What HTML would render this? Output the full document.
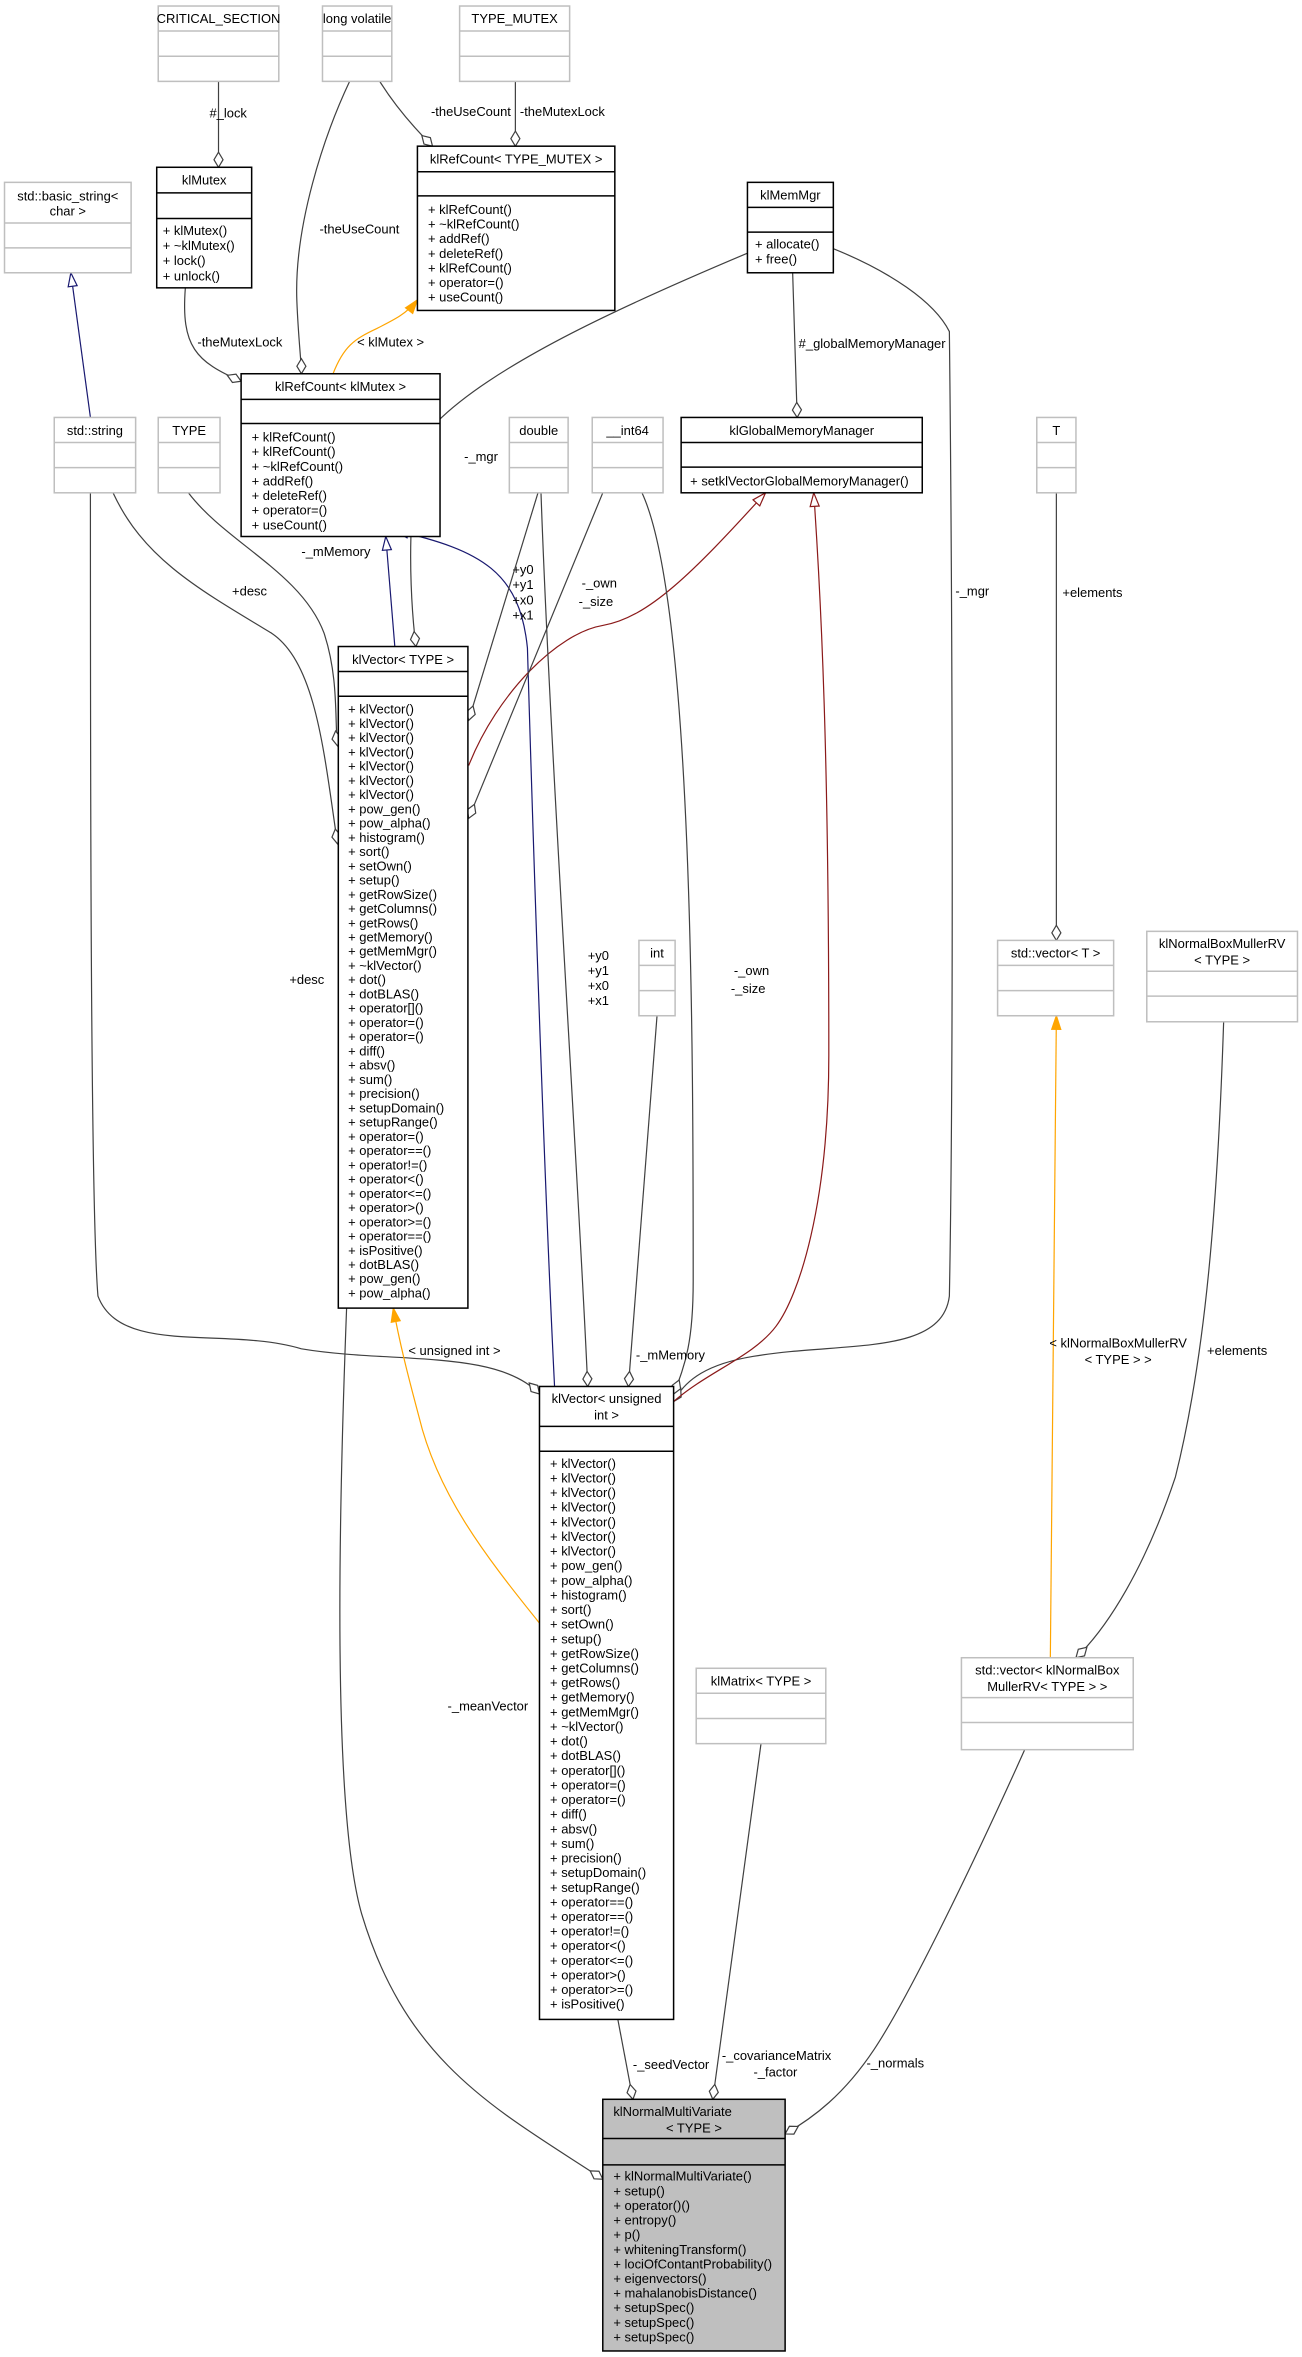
<!DOCTYPE html>
<html><head><meta charset="utf-8"><style>
html,body{margin:0;padding:0;background:#fff}
svg{display:block}
text{font-family:"Liberation Sans",Arial,sans-serif;font-size:8.6px;fill:#000}
.t{text-anchor:middle}
.g{fill:#fff;stroke:#bfbfbf;stroke-width:1}
.b{fill:#fff;stroke:#000;stroke-width:1}
.gl{stroke:#bfbfbf;stroke-width:1}
.bl{stroke:#000;stroke-width:1}
.e{fill:none;stroke:#404040;stroke-width:0.8}
.n{fill:none;stroke:#191970;stroke-width:0.8}
.r{fill:none;stroke:#8b1a1a;stroke-width:0.8}
.o{fill:none;stroke:orange;stroke-width:0.8}
</style></head><body>
<svg width="1302" height="2357" viewBox="0 0 864 1564" preserveAspectRatio="none" xmlns="http://www.w3.org/2000/svg">
<defs>
<marker id="d" markerWidth="12" markerHeight="8" refX="11" refY="4" orient="auto" markerUnits="userSpaceOnUse"><path d="M1,4 L6,1 L11,4 L6,7 Z" fill="#fff" stroke="#404040" stroke-width="0.8"/></marker>
<marker id="tn" markerWidth="11" markerHeight="8" refX="10" refY="4" orient="auto" markerUnits="userSpaceOnUse"><path d="M1,1 L10,4 L1,7 Z" fill="#fff" stroke="#191970" stroke-width="0.8"/></marker>
<marker id="tr" markerWidth="11" markerHeight="8" refX="10" refY="4" orient="auto" markerUnits="userSpaceOnUse"><path d="M1,1 L10,4 L1,7 Z" fill="#fff" stroke="#8b1a1a" stroke-width="0.8"/></marker>
<marker id="to" markerWidth="11" markerHeight="8" refX="10" refY="4" orient="auto" markerUnits="userSpaceOnUse"><path d="M1,1 L10,4 L1,7 Z" fill="orange" stroke="orange" stroke-width="0.8"/></marker>
</defs>

<!-- edges -->
<path class="e" d="M145,54 L145,111" marker-end="url(#d)"/>
<text x="139" y="78">#_lock</text>
<path class="e" d="M232,54 C215,90 195,150 197,200 C198,225 200,240 200,248" marker-end="url(#d)"/>
<text x="212" y="155">-theUseCount</text>
<path class="e" d="M252,54 C262,70 275,85 287,97" marker-end="url(#d)"/>
<text x="286" y="77">-theUseCount</text>
<path class="e" d="M342,54 L342,97" marker-end="url(#d)"/>
<text x="345" y="77">-theMutexLock</text>
<path class="e" d="M123,191 C120,230 130,240 160,253" marker-end="url(#d)"/>
<text x="131" y="230">-theMutexLock</text>
<path class="o" d="M221,248 C228,230 235,225 250,218 C262,212 270,208 277,199" marker-end="url(#to)"/>
<text x="237" y="230">&lt; klMutex &gt;</text>
<path class="n" d="M60,277 L47,181" marker-end="url(#tn)"/>
<path class="n" d="M262,429 L256,356" marker-end="url(#tn)"/>
<path class="n" d="M368,920 C362,800 355,600 350,430 C345,380 320,365 262,352" marker-end="url(#tn)"/>
<text x="340" y="381">+y0</text><text x="340" y="391">+y1</text><text x="340" y="401">+x0</text><text x="340" y="411">+x1</text>
<path class="e" d="M496,168 C420,200 330,240 290,280 C270,300 270,380 276,429" marker-end="url(#d)"/>
<text x="308" y="306">-_mgr</text>
<path class="e" d="M526,181 L529,277" marker-end="url(#d)"/>
<text x="530" y="231">#_globalMemoryManager</text>
<path class="e" d="M553,165 C590,180 620,200 630,220 C632,400 633,700 630,860 C625,900 560,890 500,900 C470,905 455,915 447,930" marker-end="url(#d)"/>
<text x="634" y="395">-_mgr</text>
<path class="r" d="M311,508 C330,460 370,420 400,415 C430,410 460,380 508,327" marker-end="url(#tr)"/>
<path class="r" d="M447,930 C470,910 500,900 515,880 C530,860 550,800 550,700 C550,500 545,400 540,327" marker-end="url(#tr)"/>
<path class="e" d="M75,327 C95,370 130,390 180,420 C210,440 215,500 224,560" marker-end="url(#d)"/>
<text x="154" y="395">+desc</text>
<path class="e" d="M60,327 C60,500 60,800 65,860 C80,900 150,880 200,895 C260,905 330,895 358,925" marker-end="url(#d)"/>
<text x="192" y="653">+desc</text>
<path class="e" d="M125,327 C150,360 200,380 215,420 C225,450 222,480 224,495" marker-end="url(#d)"/>
<text x="200" y="369">-_mMemory</text>
<path class="e" d="M357,327 L311,478" marker-end="url(#d)"/>
<path class="e" d="M359,327 C365,500 385,800 390,920" marker-end="url(#d)"/>
<text x="390" y="637">+y0</text><text x="390" y="647">+y1</text><text x="390" y="657">+x0</text><text x="390" y="667">+x1</text>
<path class="e" d="M400,327 L311,543" marker-end="url(#d)"/>
<text x="386" y="390">-_own</text><text x="384" y="402">-_size</text>
<path class="e" d="M426,327 C460,400 460,700 460,850 C460,890 455,905 447,925" marker-end="url(#d)"/>
<text x="487" y="647">-_own</text><text x="485" y="659">-_size</text>
<path class="e" d="M436,674 L417,920" marker-end="url(#d)"/>
<text x="422" y="902">-_mMemory</text>
<path class="o" d="M358,1077 C320,1030 290,990 278,940 C270,910 265,890 261,868" marker-end="url(#to)"/>
<text x="271" y="899">&lt; unsigned int &gt;</text>
<path class="e" d="M230,868 C225,1000 220,1200 240,1270 C270,1370 330,1400 400,1446" marker-end="url(#d)"/>
<text x="297" y="1135">-_meanVector</text>
<path class="e" d="M410,1340 L420,1393" marker-end="url(#d)"/>
<text x="420" y="1373">-_seedVector</text>
<path class="e" d="M505,1157 L473,1393" marker-end="url(#d)"/>
<text x="479" y="1367">-_covarianceMatrix</text><text x="500" y="1378">-_factor</text>
<path class="e" d="M680,1161 C640,1250 600,1330 580,1360 C560,1390 540,1405 521,1416" marker-end="url(#d)"/>
<text x="575" y="1372">-_normals</text>
<path class="e" d="M701,327 L701,624" marker-end="url(#d)"/>
<text x="705" y="396">+elements</text>
<path class="o" d="M697,1100 L701,674" marker-end="url(#to)"/>
<text x="742" y="894" class="t">&lt; klNormalBoxMullerRV</text><text x="742" y="905" class="t">&lt; TYPE &gt; &gt;</text>
<path class="e" d="M812,678 C808,800 800,900 780,980 C760,1040 735,1080 714,1100" marker-end="url(#d)"/>
<text x="801" y="899">+elements</text>

<!-- grey boxes -->
<rect class="g" x="105" y="4" width="80" height="50"/><line class="gl" x1="105" y1="20.6" x2="185" y2="20.6"/><line class="gl" x1="105" y1="37.3" x2="185" y2="37.3"/><text class="t" x="145" y="15.3">CRITICAL_SECTION</text>
<rect class="g" x="214" y="4" width="46" height="50"/><line class="gl" x1="214" y1="20.6" x2="260" y2="20.6"/><line class="gl" x1="214" y1="37.3" x2="260" y2="37.3"/><text class="t" x="237" y="15.3">long volatile</text>
<rect class="g" x="305" y="4" width="73" height="50"/><line class="gl" x1="305" y1="20.6" x2="378" y2="20.6"/><line class="gl" x1="305" y1="37.3" x2="378" y2="37.3"/><text class="t" x="341.5" y="15.3">TYPE_MUTEX</text>
<rect class="g" x="3" y="121" width="84" height="60"/><line class="gl" x1="3" y1="148" x2="87" y2="148"/><line class="gl" x1="3" y1="164.5" x2="87" y2="164.5"/><text class="t" x="45" y="133">std::basic_string&lt;</text><text class="t" x="45" y="143">char &gt;</text>
<rect class="g" x="36" y="277" width="54" height="50"/><line class="gl" x1="36" y1="293.6" x2="90" y2="293.6"/><line class="gl" x1="36" y1="310.3" x2="90" y2="310.3"/><text class="t" x="63" y="288.5">std::string</text>
<rect class="g" x="105" y="277" width="41" height="50"/><line class="gl" x1="105" y1="293.6" x2="146" y2="293.6"/><line class="gl" x1="105" y1="310.3" x2="146" y2="310.3"/><text class="t" x="125.5" y="288.5">TYPE</text>
<rect class="g" x="338" y="277" width="39" height="50"/><line class="gl" x1="338" y1="293.6" x2="377" y2="293.6"/><line class="gl" x1="338" y1="310.3" x2="377" y2="310.3"/><text class="t" x="357.5" y="288.5">double</text>
<rect class="g" x="393" y="277" width="47" height="50"/><line class="gl" x1="393" y1="293.6" x2="440" y2="293.6"/><line class="gl" x1="393" y1="310.3" x2="440" y2="310.3"/><text class="t" x="416.5" y="288.5">__int64</text>
<rect class="g" x="688" y="277" width="26" height="50"/><line class="gl" x1="688" y1="293.6" x2="714" y2="293.6"/><line class="gl" x1="688" y1="310.3" x2="714" y2="310.3"/><text class="t" x="701" y="288.5">T</text>
<rect class="g" x="424" y="624" width="24" height="50"/><line class="gl" x1="424" y1="640.6" x2="448" y2="640.6"/><line class="gl" x1="424" y1="657.3" x2="448" y2="657.3"/><text class="t" x="436" y="635.5">int</text>
<rect class="g" x="662" y="624" width="77" height="50"/><line class="gl" x1="662" y1="640.6" x2="739" y2="640.6"/><line class="gl" x1="662" y1="657.3" x2="739" y2="657.3"/><text class="t" x="700.5" y="635.5">std::vector&lt; T &gt;</text>
<rect class="g" x="761" y="618" width="100" height="60"/><line class="gl" x1="761" y1="644.5" x2="861" y2="644.5"/><line class="gl" x1="761" y1="661" x2="861" y2="661"/><text class="t" x="811" y="629">klNormalBoxMullerRV</text><text class="t" x="811" y="640">&lt; TYPE &gt;</text>
<rect class="g" x="462" y="1107" width="86" height="50"/><line class="gl" x1="462" y1="1123.6" x2="548" y2="1123.6"/><line class="gl" x1="462" y1="1140.3" x2="548" y2="1140.3"/><text class="t" x="505" y="1118.5">klMatrix&lt; TYPE &gt;</text>
<rect class="g" x="638" y="1100" width="114" height="61"/><line class="gl" x1="638" y1="1126.5" x2="752" y2="1126.5"/><line class="gl" x1="638" y1="1143" x2="752" y2="1143"/><text class="t" x="695" y="1111">std::vector&lt; klNormalBox</text><text class="t" x="695" y="1122">MullerRV&lt; TYPE &gt; &gt;</text>

<!-- black boxes -->
<rect class="b" x="104" y="111" width="63" height="80"/><line class="bl" x1="104" y1="128" x2="167" y2="128"/><line class="bl" x1="104" y1="145" x2="167" y2="145"/>
<text class="t" x="135.5" y="122.5">klMutex</text>
<text x="108" y="156">+ klMutex()</text><text x="108" y="166">+ ~klMutex()</text><text x="108" y="176">+ lock()</text><text x="108" y="186">+ unlock()</text>

<rect class="b" x="277" y="97" width="131" height="109"/><line class="bl" x1="277" y1="114" x2="408" y2="114"/><line class="bl" x1="277" y1="130" x2="408" y2="130"/>
<text class="t" x="342.5" y="108.5">klRefCount&lt; TYPE_MUTEX &gt;</text>
<text x="284" y="142">+ klRefCount()</text><text x="284" y="151.7">+ ~klRefCount()</text><text x="284" y="161.4">+ addRef()</text><text x="284" y="171.1">+ deleteRef()</text><text x="284" y="180.8">+ klRefCount()</text><text x="284" y="190.5">+ operator=()</text><text x="284" y="200.2">+ useCount()</text>

<rect class="b" x="160" y="248" width="132" height="108"/><line class="bl" x1="160" y1="265" x2="292" y2="265"/><line class="bl" x1="160" y1="281" x2="292" y2="281"/>
<text class="t" x="226" y="259.5">klRefCount&lt; klMutex &gt;</text>
<text x="167" y="293">+ klRefCount()</text><text x="167" y="302.7">+ klRefCount()</text><text x="167" y="312.4">+ ~klRefCount()</text><text x="167" y="322.1">+ addRef()</text><text x="167" y="331.8">+ deleteRef()</text><text x="167" y="341.5">+ operator=()</text><text x="167" y="351.2">+ useCount()</text>

<rect class="b" x="496" y="121" width="57" height="60"/><line class="bl" x1="496" y1="137.6" x2="553" y2="137.6"/><line class="bl" x1="496" y1="154" x2="553" y2="154"/>
<text class="t" x="524.5" y="132.5">klMemMgr</text>
<text x="501" y="165">+ allocate()</text><text x="501" y="175">+ free()</text>

<rect class="b" x="452" y="277" width="160" height="50"/><line class="bl" x1="452" y1="293.6" x2="612" y2="293.6"/><line class="bl" x1="452" y1="310" x2="612" y2="310"/>
<text class="t" x="532" y="288.5">klGlobalMemoryManager</text>
<text x="458" y="322">+ setklVectorGlobalMemoryManager()</text>

<rect class="b" x="224.5" y="429" width="86" height="439"/><line class="bl" x1="224.5" y1="445.6" x2="310.5" y2="445.6"/><line class="bl" x1="224.5" y1="462" x2="310.5" y2="462"/>
<text class="t" x="267.5" y="440.5">klVector&lt; TYPE &gt;</text>
<g transform="translate(231,0)">
<text y="473.5">+ klVector()</text><text y="483">+ klVector()</text><text y="492.4">+ klVector()</text><text y="501.9">+ klVector()</text><text y="511.3">+ klVector()</text><text y="520.8">+ klVector()</text><text y="530.2">+ klVector()</text><text y="539.7">+ pow_gen()</text><text y="549.1">+ pow_alpha()</text><text y="558.6">+ histogram()</text><text y="568">+ sort()</text><text y="577.5">+ setOwn()</text><text y="586.9">+ setup()</text><text y="596.4">+ getRowSize()</text><text y="605.8">+ getColumns()</text><text y="615.3">+ getRows()</text><text y="624.7">+ getMemory()</text><text y="634.2">+ getMemMgr()</text><text y="643.6">+ ~klVector()</text><text y="653.1">+ dot()</text><text y="662.5">+ dotBLAS()</text><text y="672">+ operator[]()</text><text y="681.4">+ operator=()</text><text y="690.9">+ operator=()</text><text y="700.3">+ diff()</text><text y="709.8">+ absv()</text><text y="719.2">+ sum()</text><text y="728.7">+ precision()</text><text y="738.1">+ setupDomain()</text><text y="747.6">+ setupRange()</text><text y="757">+ operator=()</text><text y="766.5">+ operator==()</text><text y="775.9">+ operator!=()</text><text y="785.4">+ operator&lt;()</text><text y="794.8">+ operator&lt;=()</text><text y="804.3">+ operator&gt;()</text><text y="813.7">+ operator&gt;=()</text><text y="823.2">+ operator==()</text><text y="832.6">+ isPositive()</text><text y="842.1">+ dotBLAS()</text><text y="851.5">+ pow_gen()</text><text y="861">+ pow_alpha()</text>
</g>

<rect class="b" x="358" y="920" width="89" height="420"/><line class="bl" x1="358" y1="946.5" x2="447" y2="946.5"/><line class="bl" x1="358" y1="963" x2="447" y2="963"/>
<text class="t" x="402.5" y="931">klVector&lt; unsigned</text><text class="t" x="402.5" y="942">int &gt;</text>
<g transform="translate(365,0)">
<text y="974">+ klVector()</text><text y="983.7">+ klVector()</text><text y="993.4">+ klVector()</text><text y="1003.1">+ klVector()</text><text y="1012.8">+ klVector()</text><text y="1022.5">+ klVector()</text><text y="1032.2">+ klVector()</text><text y="1041.9">+ pow_gen()</text><text y="1051.6">+ pow_alpha()</text><text y="1061.3">+ histogram()</text><text y="1071">+ sort()</text><text y="1080.7">+ setOwn()</text><text y="1090.4">+ setup()</text><text y="1100.1">+ getRowSize()</text><text y="1109.8">+ getColumns()</text><text y="1119.5">+ getRows()</text><text y="1129.2">+ getMemory()</text><text y="1138.9">+ getMemMgr()</text><text y="1148.6">+ ~klVector()</text><text y="1158.3">+ dot()</text><text y="1168">+ dotBLAS()</text><text y="1177.7">+ operator[]()</text><text y="1187.4">+ operator=()</text><text y="1197.1">+ operator=()</text><text y="1206.8">+ diff()</text><text y="1216.5">+ absv()</text><text y="1226.2">+ sum()</text><text y="1235.9">+ precision()</text><text y="1245.6">+ setupDomain()</text><text y="1255.3">+ setupRange()</text><text y="1265">+ operator==()</text><text y="1274.7">+ operator==()</text><text y="1284.4">+ operator!=()</text><text y="1294.1">+ operator&lt;()</text><text y="1303.8">+ operator&lt;=()</text><text y="1313.5">+ operator&gt;()</text><text y="1323.2">+ operator&gt;=()</text><text y="1332.9">+ isPositive()</text>
</g>

<rect x="400" y="1393" width="121" height="167" fill="#bfbfbf" stroke="#000" stroke-width="1"/><line class="bl" x1="400" y1="1419" x2="521" y2="1419"/><line class="bl" x1="400" y1="1436.5" x2="521" y2="1436.5"/>
<text x="407" y="1404">klNormalMultiVariate</text><text class="t" x="460.5" y="1415">&lt; TYPE &gt;</text>
<g transform="translate(407,0)">
<text y="1447">+ klNormalMultiVariate()</text><text y="1456.7">+ setup()</text><text y="1466.4">+ operator()()</text><text y="1476.1">+ entropy()</text><text y="1485.8">+ p()</text><text y="1495.5">+ whiteningTransform()</text><text y="1505.2">+ lociOfContantProbability()</text><text y="1514.9">+ eigenvectors()</text><text y="1524.6">+ mahalanobisDistance()</text><text y="1534.3">+ setupSpec()</text><text y="1544">+ setupSpec()</text><text y="1553.7">+ setupSpec()</text>
</g>
</svg>
</body></html>
